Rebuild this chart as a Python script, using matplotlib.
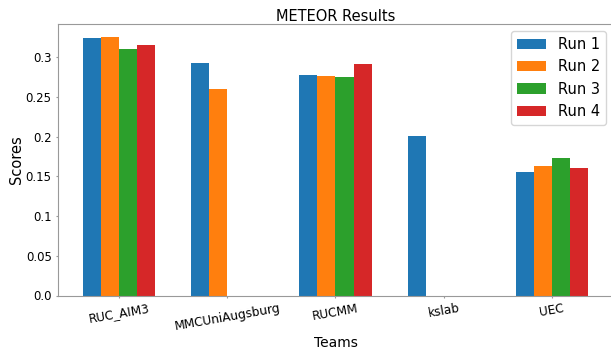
import numpy as np
import matplotlib
matplotlib.use("Agg")
import matplotlib.pyplot as plt

teams = ["RUC_AIM3", "MMCUniAugsburg", "RUCMM", "kslab", "UEC"]
runs = ["Run 1", "Run 2", "Run 3", "Run 4"]
# nan = team did not submit that run
run1 = [0.3246, 0.2931, 0.2779, 0.2011, 0.1557]
run2 = [0.3259, 0.2603, 0.2766, np.nan, 0.1632]
run3 = [0.3107, np.nan, 0.2754, np.nan, 0.1729]
run4 = [0.3154, np.nan, 0.2914, np.nan, 0.1607]
colors = ["#1f77b4", "#ff7f0e", "#2ca02c", "#d62728"]

fig = plt.figure(figsize=(6.11, 3.5), dpi=100)
ax = fig.add_axes([58 / 611, 1 - 295.5 / 350, 555 / 611, 271.5 / 350])

x = np.arange(len(teams))
w = 1 / 6
for i, (vals, lab) in enumerate(zip([run1, run2, run3, run4], runs)):
    ax.bar(x + (i - 1.5) * w, vals, w, label=lab, color=colors[i])

ax.set_xticks(x)
ax.set_xticklabels(teams, rotation=10, fontsize=8.7)
ax.set_yticks([0, 0.05, 0.1, 0.15, 0.2, 0.25, 0.3])
ax.set_yticklabels(["0.0", "0.05", "0.1", "0.15", "0.2", "0.25", "0.3"], fontsize=8.5)
ax.tick_params(length=1.5, pad=3, color="#999999")
for s in ax.spines.values():
    s.set_color("#999999")
ax.set_xlabel("Teams", fontsize=10)
ax.set_ylabel("Scores", fontsize=10.5)
ax.xaxis.set_label_coords(0.5, -0.150)
ax.yaxis.set_label_coords(-0.062, 0.5)
ax.set_title("METEOR Results", fontsize=10.5, pad=2.4)
ax.legend(fontsize=10.5, loc="upper right")

fig.savefig("out.png", dpi=100)
